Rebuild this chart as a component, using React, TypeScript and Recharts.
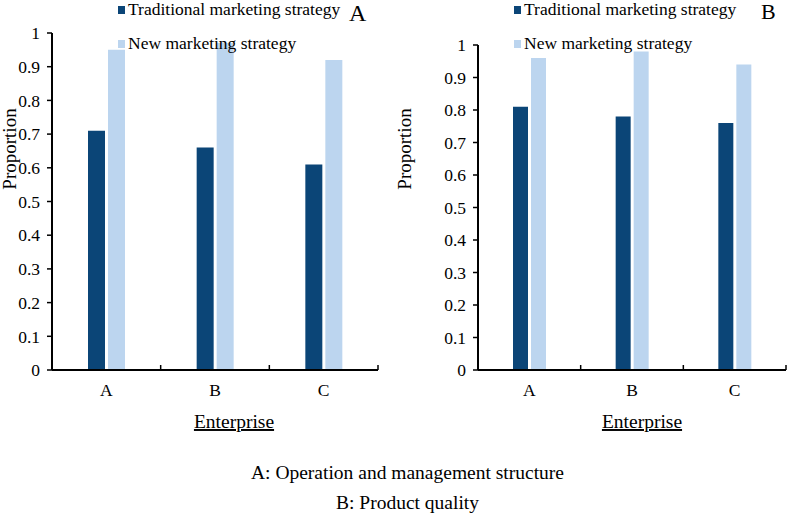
import { BarChart, Bar, XAxis, YAxis, Legend } from 'recharts'

const categories = ['A', 'B', 'C']
const traditionalStructure = [0.71, 0.66, 0.61]
const newStructure = [0.95, 0.97, 0.92]
const traditionalQuality = [0.81, 0.78, 0.76]
const newQuality = [0.96, 0.98, 0.94]
const yTicks = [0, 0.1, 0.2, 0.3, 0.4, 0.5, 0.6, 0.7, 0.8, 0.9, 1]
const seriesNames = ['Traditional marketing strategy', 'New marketing strategy']
const captions = ['A: Operation and management structure', 'B: Product quality']

const DARK = '#0b4577'
const LIGHT = '#bcd5ef'
const FONT = "'Liberation Serif', 'DejaVu Serif', serif"

function CategoryTick(props: any) {
  const { x, y, payload, width } = props
  const half = payload.offset || width / categories.length / 2
  return (
    <g>
      <text x={x} y={y + 26} textAnchor="middle" fontSize={17.5} fontFamily={FONT} fill="#000">
        {payload.value}
      </text>
      <line x1={x + half} x2={x + half} y1={y} y2={y - 5} stroke="#000" strokeWidth={1.5} />
    </g>
  )
}

function LegendBox() {
  return (
    <div style={{ fontFamily: FONT, fontSize: 17.5, color: '#000' }}>
      {seriesNames.map((name, i) => (
        <div
          key={name}
          style={{ display: 'flex', alignItems: 'center', height: 17, lineHeight: '17px', marginBottom: 17, whiteSpace: 'nowrap' }}
        >
          <span style={{ display: 'inline-block', width: 7, height: 8, background: i === 0 ? DARK : LIGHT, marginRight: 3 }} />
          {name}
        </div>
      ))}
    </div>
  )
}

interface PanelProps {
  tradValues: number[]
  newValues: number[]
  width: number
  axisWidth: number
  top: number
  right: number
  barSize: number
  labelX: number
  enterpriseDx: number
  legendLeft: number
}

function Panel({ tradValues, newValues, width, axisWidth, top, right, barSize, labelX, enterpriseDx, legendLeft }: PanelProps) {
  const data = categories.map((c, i) => ({ name: c, trad: tradValues[i], next: newValues[i] }))
  const height = 440
  // plot bottom sits at y = 370 in both panels
  const xHeight = height - 370
  return (
    <BarChart
      width={width}
      height={height}
      data={data}
      margin={{ top, right, left: 0, bottom: 0 }}
      barSize={barSize}
      barGap={3}
    >
      <XAxis
        dataKey="name"
        height={xHeight}
        axisLine={{ stroke: '#000', strokeWidth: 2 }}
        tickLine={false}
        tickSize={0}
        tickMargin={0}
        tick={<CategoryTick />}
        label={{
          content: (p: any) => {
            const vb = p.viewBox
            return (
              <text
                x={vb.x + vb.width / 2 + enterpriseDx}
                y={428}
                textAnchor="middle"
                fontSize={19.5}
                fontFamily={FONT}
                fill="#000"
                style={{ textDecoration: 'underline' }}
              >
                Enterprise
              </text>
            )
          },
        }}
      />
      <YAxis
        width={axisWidth}
        domain={[0, 1]}
        ticks={yTicks}
        interval={0}
        tickFormatter={(v: number) => String(Number(v.toFixed(1)))}
        tick={{ fontSize: 17.5, fontFamily: FONT, fill: '#000' }}
        tickSize={5}
        tickMargin={7}
        axisLine={{ stroke: '#000', strokeWidth: 2 }}
        tickLine={{ stroke: '#000', strokeWidth: 1.5 }}
        label={{
          content: () => (
            <text
              x={labelX}
              y={149}
              transform={`rotate(-90 ${labelX} 149)`}
              textAnchor="middle"
              fontSize={19}
              fontFamily={FONT}
              fill="#000"
            >
              Proportion
            </text>
          ),
        }}
      />
      <Legend
        layout="vertical"
        align="center"
        verticalAlign="middle"
        wrapperStyle={{ top: 1, left: legendLeft, width: 'auto' }}
        content={() => <LegendBox />}
      />
      <Bar dataKey="trad" name={seriesNames[0]} fill={DARK} isAnimationActive={false} />
      <Bar dataKey="next" name={seriesNames[1]} fill={LIGHT} isAnimationActive={false} />
    </BarChart>
  )
}

export default function App() {
  return (
    <div style={{ position: 'absolute', left: 0, top: 0, width: 787, height: 515, background: '#fff', fontFamily: FONT }}>
      <div style={{ position: 'absolute', left: 0, top: 0 }}>
        <Panel
          tradValues={traditionalStructure}
          newValues={newStructure}
          width={390}
          axisWidth={52}
          top={33}
          right={12}
          barSize={17}
          labelX={16}
          enterpriseDx={19}
          legendLeft={118}
        />
      </div>
      <div style={{ position: 'absolute', left: 390, top: 0 }}>
        <Panel
          tradValues={traditionalQuality}
          newValues={newQuality}
          width={397}
          axisWidth={88}
          top={45}
          right={1}
          barSize={15}
          labelX={21}
          enterpriseDx={10}
          legendLeft={124}
        />
      </div>
      <div style={{ position: 'absolute', left: 349, top: 1, fontSize: 24, lineHeight: '24px' }}>A</div>
      <div style={{ position: 'absolute', left: 761, top: 1, fontSize: 22, lineHeight: '22px' }}>B</div>
      {captions.map((c, i) => (
        <div
          key={c}
          style={{
            position: 'absolute',
            left: 0,
            width: 815,
            top: 463 + i * 30,
            textAlign: 'center',
            fontSize: 19.5,
            lineHeight: '19.5px',
          }}
        >
          {c}
        </div>
      ))}
    </div>
  )
}
